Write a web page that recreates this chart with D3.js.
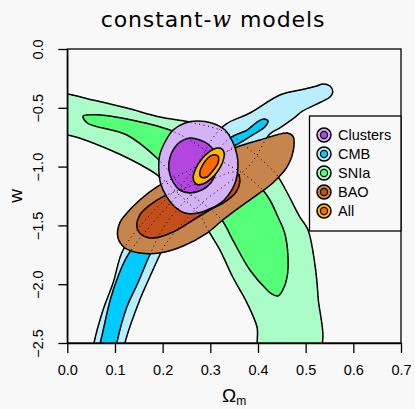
<!DOCTYPE html>
<html><head><meta charset="utf-8">
<script src="https://cdn.jsdelivr.net/npm/d3@7"></script>
<style>body{margin:0;background:#f8f8f8;} svg{display:block}</style>
</head><body>
<script>
// ---- data (Omega_m, w) ----
const xTicks = [0, 0.1, 0.2, 0.3, 0.4, 0.5, 0.6, 0.7];
const yTicks = [0, -0.5, -1.0, -1.5, -2.0, -2.5];
const probes = ["Clusters", "CMB", "SNIa", "BAO", "All"];
const lightColors = ["#D5B1F5", "#B9EEFE", "#AAFDC6", "#C7844C", "#FFB900"];
const darkColors  = ["#B446E0", "#00CBFF", "#56FF78", "#C54F1B", "#FF6A00"];

const sniaOuter = [[-0.015,-0.374],[0.001,-0.383],[0.054,-0.434],[0.125,-0.502],[0.194,-0.578],[0.257,-0.621],[0.331,-0.706],[0.373,-0.825],[0.408,-0.944],[0.438,-1.063],[0.456,-1.182],[0.488,-1.429],[0.505,-1.539],[0.519,-1.820],[0.526,-2.109],[0.528,-2.560],[0.404,-2.560],[0.398,-2.364],[0.377,-2.160],[0.347,-1.939],[0.320,-1.709],[0.295,-1.539],[0.278,-1.412],[0.236,-1.241],[0.194,-1.088],[0.173,-1.029],[0.090,-0.859],[0.001,-0.731],[-0.015,-0.731]];
const sniaInner = [[0.033,-0.570],[0.069,-0.561],[0.125,-0.595],[0.215,-0.689],[0.257,-0.774],[0.320,-0.944],[0.373,-1.071],[0.410,-1.199],[0.425,-1.284],[0.442,-1.429],[0.456,-1.565],[0.463,-1.769],[0.461,-1.939],[0.452,-2.049],[0.442,-2.100],[0.429,-2.083],[0.419,-2.049],[0.383,-1.879],[0.347,-1.624],[0.324,-1.454],[0.289,-1.327],[0.247,-1.199],[0.188,-0.927],[0.125,-0.731],[0.042,-0.629]];
const cmbOuter = [[0.054,-2.560],[0.056,-2.500],[0.075,-2.219],[0.096,-1.990],[0.117,-1.709],[0.173,-1.412],[0.257,-1.071],[0.310,-0.731],[0.333,-0.638],[0.383,-0.544],[0.446,-0.391],[0.488,-0.349],[0.523,-0.315],[0.536,-0.298],[0.551,-0.315],[0.557,-0.366],[0.551,-0.408],[0.530,-0.455],[0.494,-0.527],[0.473,-0.595],[0.446,-0.671],[0.425,-0.722],[0.383,-0.986],[0.278,-1.327],[0.205,-1.667],[0.194,-1.752],[0.173,-1.939],[0.152,-2.134],[0.121,-2.500],[0.119,-2.560]];
const cmbInner = [[0.064,-2.560],[0.069,-2.500],[0.090,-2.134],[0.106,-1.939],[0.127,-1.752],[0.194,-1.412],[0.278,-1.046],[0.341,-0.757],[0.377,-0.689],[0.398,-0.621],[0.412,-0.595],[0.421,-0.612],[0.414,-0.663],[0.389,-0.731],[0.362,-0.799],[0.347,-0.833],[0.278,-1.156],[0.205,-1.497],[0.173,-1.752],[0.148,-1.990],[0.125,-2.194],[0.104,-2.500],[0.102,-2.560]];
const baoOuter = [[0.106,-1.599],[0.110,-1.480],[0.125,-1.395],[0.152,-1.284],[0.188,-1.173],[0.236,-1.071],[0.299,-0.944],[0.356,-0.833],[0.404,-0.774],[0.461,-0.714],[0.473,-0.740],[0.475,-0.842],[0.461,-1.003],[0.431,-1.139],[0.398,-1.241],[0.362,-1.344],[0.326,-1.454],[0.293,-1.565],[0.243,-1.675],[0.194,-1.735],[0.152,-1.735],[0.121,-1.692]];
const baoInner = [[0.146,-1.514],[0.152,-1.412],[0.173,-1.327],[0.199,-1.259],[0.247,-1.182],[0.310,-1.097],[0.347,-1.046],[0.358,-1.063],[0.362,-1.131],[0.354,-1.216],[0.333,-1.293],[0.299,-1.369],[0.264,-1.454],[0.222,-1.556],[0.180,-1.607],[0.157,-1.582]];
const clusOuter = [[0.272,-0.612],[0.303,-0.629],[0.331,-0.689],[0.347,-0.791],[0.356,-0.901],[0.358,-1.003],[0.354,-1.114],[0.345,-1.199],[0.329,-1.284],[0.303,-1.352],[0.274,-1.395],[0.247,-1.395],[0.226,-1.344],[0.209,-1.259],[0.196,-1.148],[0.192,-1.029],[0.194,-0.901],[0.205,-0.791],[0.222,-0.689],[0.247,-0.629]];
const clusInner = [[0.257,-0.757],[0.278,-0.774],[0.295,-0.808],[0.308,-0.867],[0.314,-0.944],[0.312,-1.046],[0.301,-1.139],[0.282,-1.199],[0.257,-1.224],[0.236,-1.199],[0.222,-1.131],[0.213,-1.029],[0.215,-0.927],[0.226,-0.833],[0.240,-0.782]];
const allOuter = [[0.314,-0.842],[0.324,-0.850],[0.329,-0.884],[0.326,-0.961],[0.316,-1.037],[0.301,-1.105],[0.284,-1.148],[0.270,-1.148],[0.264,-1.097],[0.270,-1.012],[0.282,-0.935],[0.297,-0.876]];
const allInner = [[0.305,-0.901],[0.316,-0.910],[0.316,-0.969],[0.305,-1.037],[0.293,-1.088],[0.280,-1.088],[0.278,-1.046],[0.284,-0.986],[0.295,-0.927]];

// ---- drawing ----
const W = 415, H = 409;
const x = d3.scaleLinear().domain([0, 0.7]).range([67.3, 401]);
const y = d3.scaleLinear().domain([-2.5, 0]).range([343, 49]);
const svg = d3.select("body").append("svg").attr("width", W).attr("height", H);
svg.append("rect").attr("width", W).attr("height", H).attr("fill", "#f8f8f8");

svg.append("defs").append("clipPath").attr("id", "plotclip")
  .append("rect").attr("x", x(0)).attr("y", y(0)).attr("width", x(0.7) - x(0)).attr("height", y(-2.5) - y(0));

const shape = d3.line().x(d => x(d[0])).y(d => y(d[1])).curve(d3.curveCatmullRomClosed.alpha(0.5));
const g = svg.append("g").attr("clip-path", "url(#plotclip)");

const idx = name => probes.indexOf(name);
const layers = [
  [sniaOuter, lightColors[idx("SNIa")]], [sniaInner, darkColors[idx("SNIa")]],
  [cmbOuter, lightColors[idx("CMB")]], [cmbInner, darkColors[idx("CMB")]],
  [baoOuter, lightColors[idx("BAO")]], [baoInner, darkColors[idx("BAO")]],
  [clusOuter, lightColors[idx("Clusters")]], [clusInner, darkColors[idx("Clusters")]]
];
layers.forEach(([pts, col]) => {
  g.append("path").attr("d", shape(pts)).attr("fill", col)
    .attr("stroke", "#000").attr("stroke-width", 1.5).attr("stroke-linejoin", "round");
});
// dotted outlines of hidden contours
[sniaOuter, sniaInner, cmbOuter, cmbInner, baoOuter, baoInner].forEach(pts => {
  g.append("path").attr("d", shape(pts)).attr("fill", "none")
    .attr("stroke", "#000").attr("stroke-width", 1).attr("stroke-dasharray", "1,3.5");
});
[[allOuter, lightColors[idx("All")]], [allInner, darkColors[idx("All")]]].forEach(([pts, col]) => {
  g.append("path").attr("d", shape(pts)).attr("fill", col)
    .attr("stroke", "#000").attr("stroke-width", 1.5).attr("stroke-linejoin", "round");
});

// box
svg.append("rect").attr("x", x(0)).attr("y", y(0)).attr("width", x(0.7) - x(0)).attr("height", y(-2.5) - y(0))
  .attr("fill", "none").attr("stroke", "#000").attr("stroke-width", 1.3);

const font = "'Liberation Sans', Arial, sans-serif";
// x axis
const xa = svg.append("g").attr("transform", `translate(0,${y(-2.5)})`)
  .call(d3.axisBottom(x).tickValues(xTicks).tickFormat(d3.format(".1f")).tickSize(10).tickSizeOuter(0).tickPadding(12));
xa.select(".domain").attr("stroke-width", 1.3);
xa.selectAll(".tick line").attr("stroke-width", 1.3);
xa.selectAll("text").attr("font-family", font).attr("font-size", 14.5).attr("fill", "#000");
// y axis
const ya = svg.append("g").attr("transform", `translate(${x(0)},0)`)
  .call(d3.axisLeft(y).tickValues(yTicks).tickFormat(d3.format(".1f")).tickSize(9).tickSizeOuter(0));
ya.select(".domain").attr("stroke-width", 1.3);
ya.selectAll(".tick line").attr("stroke-width", 1.3);
ya.selectAll("text").attr("font-family", font).attr("font-size", 14.5).attr("fill", "#000")
  .attr("x", 0).attr("dy", "0.36em").attr("text-anchor", "middle")
  .attr("transform", "translate(-30,0) rotate(-90)");

// axis titles
svg.append("text").attr("transform", `translate(22,${(y(0) + y(-2.5)) / 2}) rotate(-90)`)
  .attr("text-anchor", "middle").attr("font-family", font).attr("font-size", 19).text("w");
const xl = svg.append("text").attr("x", (x(0) + x(0.7)) / 2).attr("y", 402)
  .attr("text-anchor", "middle").attr("font-family", font).attr("font-size", 19);
xl.append("tspan").text("Ω");
xl.append("tspan").attr("font-size", 12).attr("dy", 3).text("m");

// title
const t = svg.append("text").attr("x", 213).attr("y", 27).attr("text-anchor", "middle")
  .attr("font-family", "'DejaVu Sans', sans-serif").attr("font-size", 22).attr("letter-spacing", 0.9);
t.append("tspan").text("constant-");
t.append("tspan").attr("font-family", "'DejaVu Serif', serif").attr("font-style", "italic").text("w");
t.append("tspan").text(" models");

// legend
const lg = svg.append("g");
lg.append("rect").attr("x", 309.5).attr("y", 116).attr("width", 91.5).attr("height", 115)
  .attr("fill", "#f8f8f8").attr("stroke", "#000").attr("stroke-width", 1.3);
probes.forEach((p, i) => {
  const cy = 135 + i * 19;
  lg.append("circle").attr("cx", 324).attr("cy", cy).attr("r", 7).attr("fill", lightColors[i]).attr("stroke", "#000").attr("stroke-width", 1.5);
  lg.append("circle").attr("cx", 324).attr("cy", cy).attr("r", 3.6).attr("fill", darkColors[i]).attr("stroke", "#000").attr("stroke-width", 1.2);
  lg.append("text").attr("x", 338).attr("y", cy).attr("dy", "0.36em").attr("font-family", font).attr("font-size", 14.5).text(p);
});
</script>
</body></html>
